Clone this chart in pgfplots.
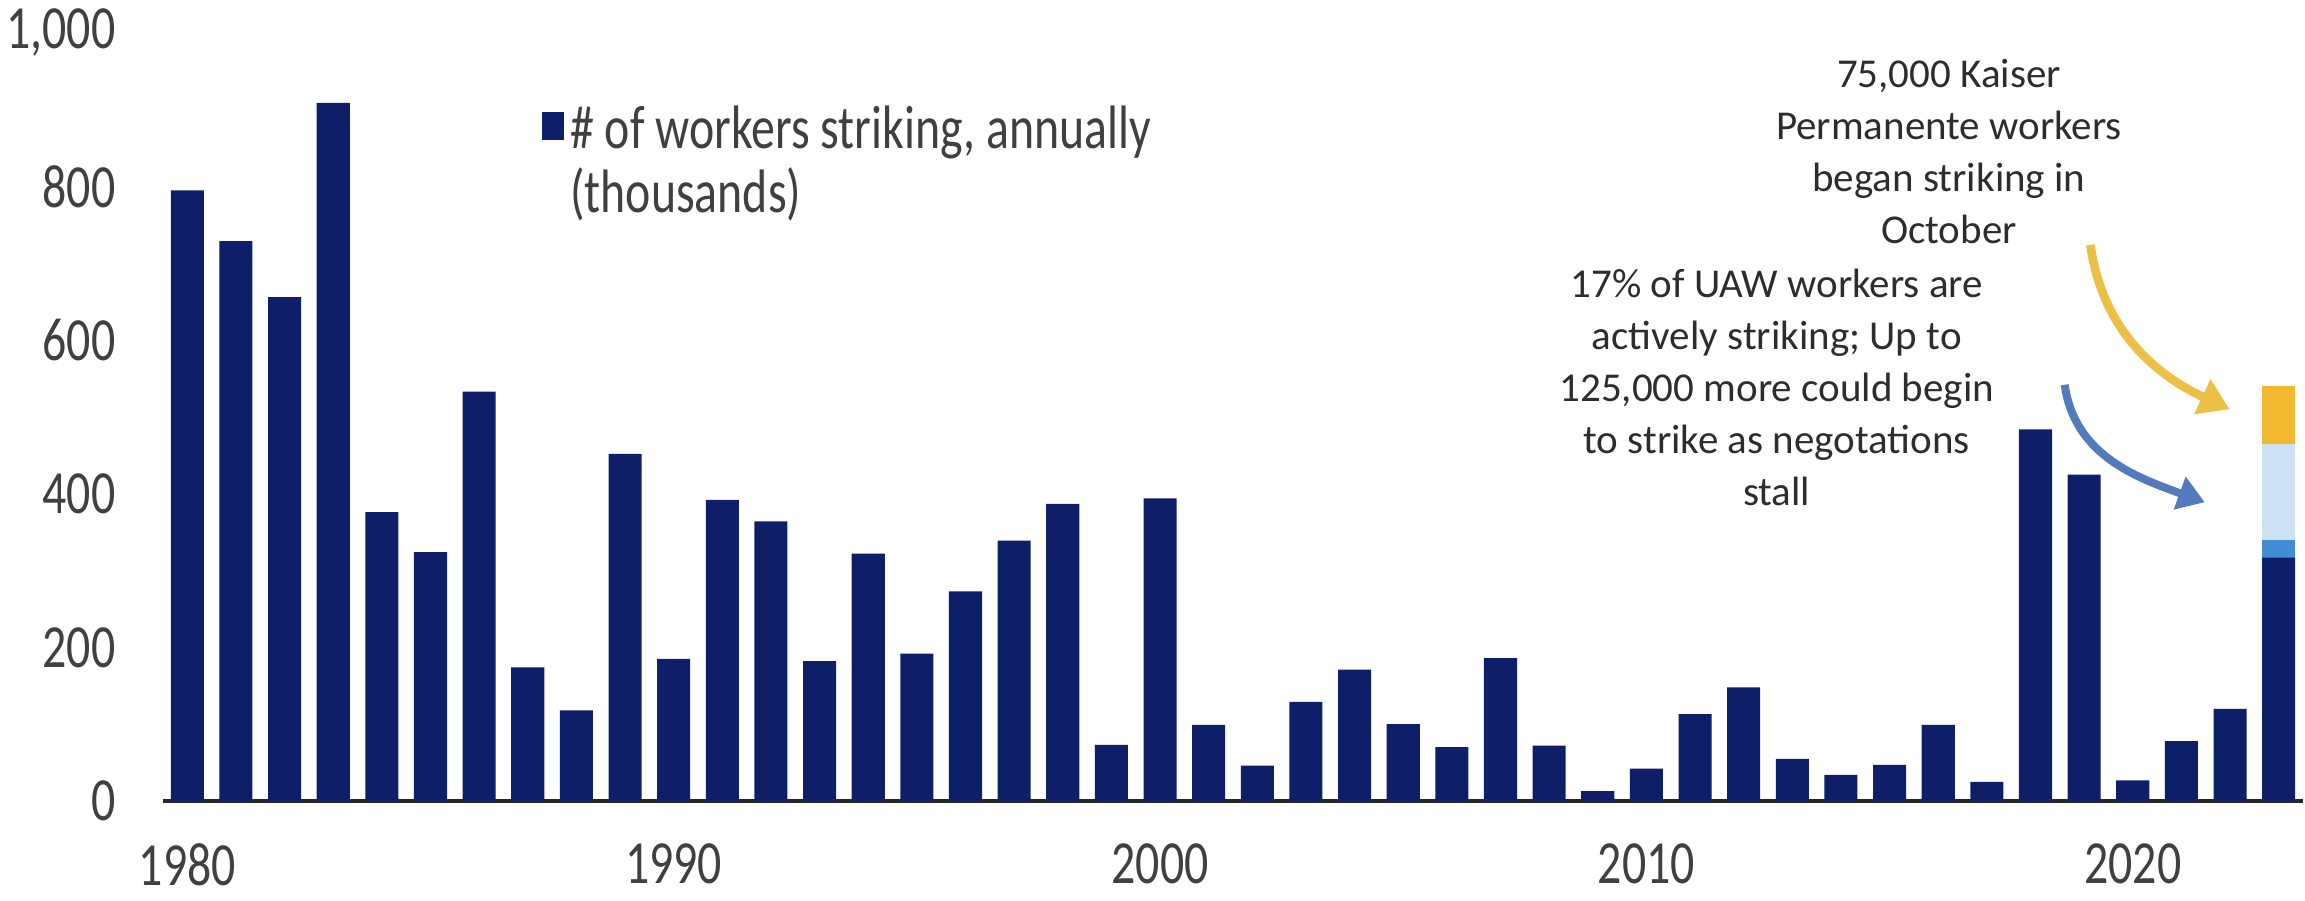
\documentclass[border=0pt]{standalone}
\usepackage{pgfplots}
\pgfplotsset{compat=1.18}
\usepackage{pgfplotstable}
\usetikzlibrary{arrows.meta}
\usepackage{fontspec}
\setmainfont{Carlito}
\newfontfamily\tickfont[FakeStretch=0.78]{Carlito}

\definecolor{navy}{RGB}{14,30,104}
\definecolor{midblue}{RGB}{66,140,212}
\definecolor{lightblue}{RGB}{204,226,244}
\definecolor{gold}{RGB}{242,184,48}
\definecolor{arrowgold}{RGB}{236,192,70}
\definecolor{arrowblue}{RGB}{84,122,190}
\definecolor{txtgray}{RGB}{64,64,64}
\definecolor{anngray}{RGB}{45,45,45}

\pgfplotstableread{
year base uaw uawmore kaiser
1980 795 0 0 0
1981 729 0 0 0
1982 656 0 0 0
1983 909 0 0 0
1984 376 0 0 0
1985 324 0 0 0
1986 533 0 0 0
1987 174 0 0 0
1988 118 0 0 0
1989 452 0 0 0
1990 185 0 0 0
1991 392 0 0 0
1992 364 0 0 0
1993 182 0 0 0
1994 322 0 0 0
1995 192 0 0 0
1996 273 0 0 0
1997 339 0 0 0
1998 387 0 0 0
1999 73 0 0 0
2000 394 0 0 0
2001 99 0 0 0
2002 46 0 0 0
2003 129 0 0 0
2004 171 0 0 0
2005 100 0 0 0
2006 70 0 0 0
2007 186 0 0 0
2008 72 0 0 0
2009 13 0 0 0
2010 42 0 0 0
2011 113 0 0 0
2012 148 0 0 0
2013 55 0 0 0
2014 34 0 0 0
2015 47 0 0 0
2016 99 0 0 0
2017 25 0 0 0
2018 484 0 0 0
2019 425 0 0 0
2020 27 0 0 0
2021 78 0 0 0
2022 120 0 0 0
2023 317 23 125 76
}\strikes

\begin{document}
\begin{tikzpicture}
\useasboundingbox (-48.9pt,-30pt) rectangle (642.6pt,240.3pt);
\begin{axis}[
  at={(0pt,0pt)}, anchor=south west,
  scale only axis, width=642pt, height=230.4pt,
  xmin=1979.5, xmax=2023.5, ymin=0, ymax=1000,
  clip=false,
  ybar stacked, bar width=0.68,
  axis x line*=bottom, axis y line*=left,
  y axis line style={draw=none},
  x axis line style={draw=black!85, line width=1.2pt},
  major tick length=0pt,
  xtick={1980,1990,2000,2010,2020},
  ytick={0,200,400,600,800,1000},
  scaled y ticks=false,
  /pgf/number format/assume math mode=true,
  xticklabel style={font={\tickfont\fontsize{18.4pt}{22pt}\selectfont}, text=txtgray,
    /pgf/number format/1000 sep={}, inner sep=0pt, anchor=north, yshift=-12.6pt},
  yticklabel style={font={\tickfont\fontsize{18.4pt}{22pt}\selectfont}, text=txtgray,
    /pgf/number format/1000 sep={,}, inner sep=0pt, anchor=east, xshift=-14.1pt},
  legend style={at={(axis cs:1987.27,833)}, anchor=west, draw=none, fill=none,
    inner sep=0pt, font={\tickfont\fontsize{18.4pt}{19.2pt}\selectfont}, text=txtgray,
    nodes={align=left}},
]
\addplot[fill=navy, draw=none,
  legend image code/.code={\fill[navy] (-1pt,6.3pt) rectangle (5.6pt,14.8pt);}]
  table[x=year, y=base] {\strikes};
\addlegendentry{\# of workers striking, annually\\(thousands)}
\addplot[fill=midblue, draw=none] table[x=year, y=uaw] {\strikes};
\addplot[fill=lightblue, draw=none] table[x=year, y=uawmore] {\strikes};
\addplot[fill=gold, draw=none] table[x=year, y=kaiser] {\strikes};

\node[font={\fontsize{12.3pt}{15.6pt}\selectfont}, text=anngray, align=center]
  at (axis cs:2016.22,845.7) {75,000 Kaiser\\Permanente workers\\began striking in\\October};
\node[font={\fontsize{12.3pt}{15.6pt}\selectfont}, text=anngray, align=center]
  at (axis cs:2012.68,538.4) {17\% of UAW workers are\\actively striking; Up to\\125,000 more could begin\\to strike as negotations\\stall};

\draw[arrowgold, line width=2.6pt, -{Triangle[width=11pt,length=9pt]}]
  (axis cs:2019.13,724) to[out=-82, in=155] (axis cs:2021.99,510);
\draw[arrowblue, line width=2.4pt, -{Triangle[width=10pt,length=8pt]}]
  (axis cs:2018.6,542) to[out=-82, in=160] (axis cs:2021.48,389);
\end{axis}
\end{tikzpicture}
\end{document}
